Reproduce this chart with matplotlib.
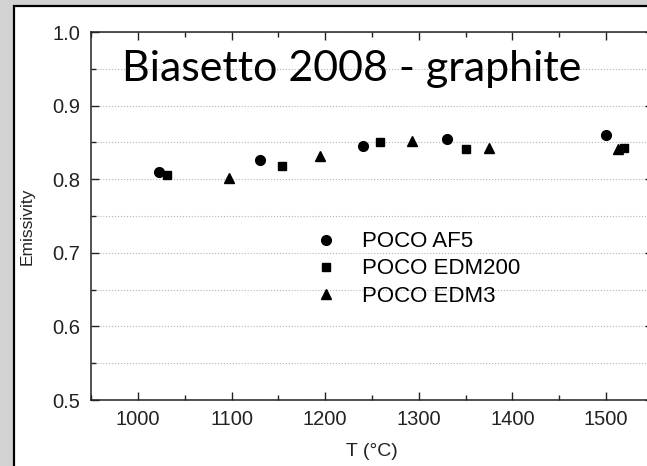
import numpy as np
import matplotlib
matplotlib.use("Agg")
import matplotlib.pyplot as plt
from matplotlib.patches import Rectangle
from matplotlib.ticker import MultipleLocator

# datos (T en grados C, emisividad)
af5_t = [1022, 1130, 1240, 1330, 1500]
af5_e = [0.810, 0.826, 0.845, 0.854, 0.860]
edm200_t = [1031, 1154, 1259, 1350, 1519]
edm200_e = [0.806, 0.818, 0.850, 0.841, 0.842]
edm3_t = [1097, 1194, 1293, 1375, 1513]
edm3_e = [0.801, 0.831, 0.852, 0.842, 0.841]

W, H = 647, 466
plt.rcParams['font.family'] = ['Liberation Sans', 'DejaVu Sans']

fig = plt.figure(figsize=(W / 100, H / 100), dpi=100, facecolor='#d2d2d2')

# marco blanco con borde negro (recortado por la derecha y abajo)
marco = Rectangle((14 / W, -0.1), 1.2, (H - 6) / H + 0.1, transform=fig.transFigure,
                  facecolor='white', edgecolor='black', linewidth=1.6, zorder=-1)
fig.add_artist(marco)

ax = fig.add_axes([91.2 / W, (H - 400) / H, (652.8 - 91.2) / W, 368 / H])
ax.set_xlim(950, 1550)
ax.set_ylim(0.5, 1.0)

ax.plot(af5_t, af5_e, 'o', color='black', ms=7, label='POCO AF5')
ax.plot(edm200_t, edm200_e, 's', color='black', ms=6, label='POCO EDM200')
ax.plot(edm3_t, edm3_e, '^', color='black', ms=7, label='POCO EDM3')

ax.xaxis.set_major_locator(MultipleLocator(100))
ax.xaxis.set_minor_locator(MultipleLocator(50))
ax.yaxis.set_major_locator(MultipleLocator(0.1))
ax.yaxis.set_minor_locator(MultipleLocator(0.05))
ax.yaxis.set_major_formatter(matplotlib.ticker.FormatStrFormatter('%.1f'))

ax.tick_params(which='both', direction='in', top=True, right=True, color='#222222')
ax.tick_params(which='major', length=6, width=1, labelsize=14.5, labelcolor='#222222')
ax.tick_params(which='minor', length=3.5, width=1)
ax.tick_params(axis='y', pad=8)
ax.tick_params(axis='x', pad=7)

for s in ax.spines.values():
    s.set_linewidth(1.1)
    s.set_color('#222222')

ax.grid(axis='y', which='both', linestyle=':', color='#b4b4b4', linewidth=0.8)

ax.set_xlabel('T (°C)', fontsize=14, color='#222222', labelpad=10)
fig.text(27 / W, 1 - 226 / H, 'Emissivity', rotation=90, fontsize=12.5,
         ha='center', va='center', color='#222222')

fig.text(122 / W, 1 - 81 / H, 'Biasetto 2008 - graphite', fontsize=31,
         family=['Lato', 'DejaVu Sans'], ha='left', va='baseline', color='black')

ax.legend(loc='center', bbox_to_anchor=(417.5 / W, 1 - 269 / H), bbox_transform=fig.transFigure,
          frameon=False, fontsize=16, handlelength=1.0, handletextpad=1.12,
          labelspacing=0.28, borderpad=0)

fig.savefig('out.png', dpi=100, facecolor=fig.get_facecolor())
